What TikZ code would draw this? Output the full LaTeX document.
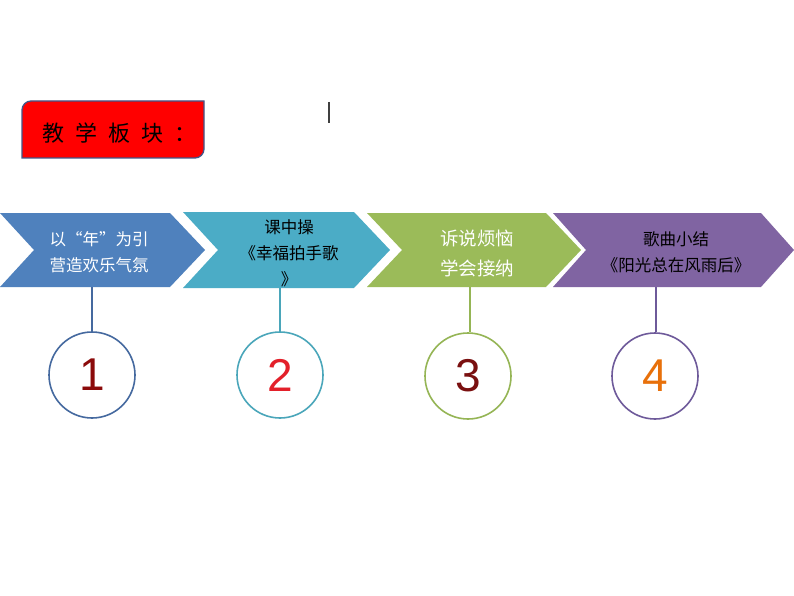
\documentclass[tikz,border=0pt]{standalone}
\usepackage{fontspec}
\setmainfont{Liberation Sans}
\newfontfamily\cjk{Noto Sans CJK SC}
\newfontfamily\digitfont{Liberation Sans}
\definecolor{cblue}{HTML}{4F81BD}
\definecolor{cteal}{HTML}{4BACC6}
\definecolor{cgreen}{HTML}{9BBB59}
\definecolor{cpurple}{HTML}{8064A2}
\definecolor{rblue}{HTML}{45699F}
\definecolor{rteal}{HTML}{4AA6BA}
\definecolor{rgreen}{HTML}{95B555}
\definecolor{rpurple}{HTML}{6E5A9A}
\definecolor{boxborder}{HTML}{41578A}
\definecolor{num1}{HTML}{8B0A0A}
\definecolor{num2}{HTML}{E3202A}
\definecolor{num3}{HTML}{7A1010}
\definecolor{num4}{HTML}{E8700A}
\begin{document}
\begin{tikzpicture}[x=1pt,y=-1pt,
  chevtext/.style={align=center,font=\cjk\fontsize{16.5}{26}\selectfont,inner sep=0pt},
  numcircle/.style={circle,minimum size=86pt,inner sep=0pt,line width=1.6pt,font=\digitfont\fontsize{46}{46}\selectfont},
  stem/.style={line width=1.6pt}]
\useasboundingbox (0,0) rectangle (794,596);
\fill[white] (0,0) rectangle (794,596);
% title box
\draw[fill=red,draw=boxborder,line width=1.3pt]
  (22,158) -- (22,110) arc[start angle=180,end angle=90,radius=9pt]
  -- (204,101) -- (204,149) arc[start angle=0,end angle=-90,radius=9pt] -- cycle;
\node[font=\cjk\fontsize{22}{22}\selectfont,inner sep=0pt,anchor=west] (title) at (42,133)
  {教\hspace{11pt}学\hspace{11pt}板\hspace{11pt}块\hspace{11pt}：};
\draw[line width=1.2pt,black!75] (329,102) -- (329,123);
% chevrons
\fill[cblue] (0,213) -- (170,213) -- (205,250) -- (170,287) -- (0,287) -- (34,250) -- cycle;
\fill[cteal] (183,212) -- (354,212) -- (390,250) -- (354,288) -- (183,288) -- (218,250) -- cycle;
\fill[cgreen] (367,213) -- (546,213) -- (581,250) -- (546,287) -- (367,287) -- (402,250) -- cycle;
\fill[cpurple] (553,213) -- (761,213) -- (794,250) -- (761,287) -- (553,287) -- (586,250) -- cycle;
% chevron texts
\node[chevtext,text=white] (t1) at (99,252) {以“年”为引\\营造欢乐气氛};
\node[chevtext,text=black] (t2) at (289,253) {课中操\\《幸福拍手歌\\》};
\node[chevtext,text=white,font=\cjk\fontsize{18.5}{30}\selectfont] (t3) at (477,253) {诉说烦恼\\学会接纳};
\node[chevtext,text=black] (t4) at (676,252) {歌曲小结\\《阳光总在风雨后》};
% stems and circles
\coordinate (b1) at (92,287);
\coordinate (b2) at (280,288);
\coordinate (b3) at (470,287);
\coordinate (b4) at (656,287);
\node[numcircle,draw=rblue,text=num1] (n1) at (92,375) {1};
\node[numcircle,draw=rteal,text=num2] (n2) at (280,375) {2};
\node[numcircle,draw=rgreen,text=num3] (n3) at (468,376) {3};
\node[numcircle,draw=rpurple,text=num4] (n4) at (655,376) {4};
\draw[stem,draw=rblue] (b1) -- (n1.north);
\draw[stem,draw=rteal] (b2) -- (n2.north);
\draw[stem,draw=rgreen] (b3) -- (b3 |- n3.north);
\draw[stem,draw=rpurple] (b4) -- (b4 |- n4.north);
\end{tikzpicture}
\end{document}
